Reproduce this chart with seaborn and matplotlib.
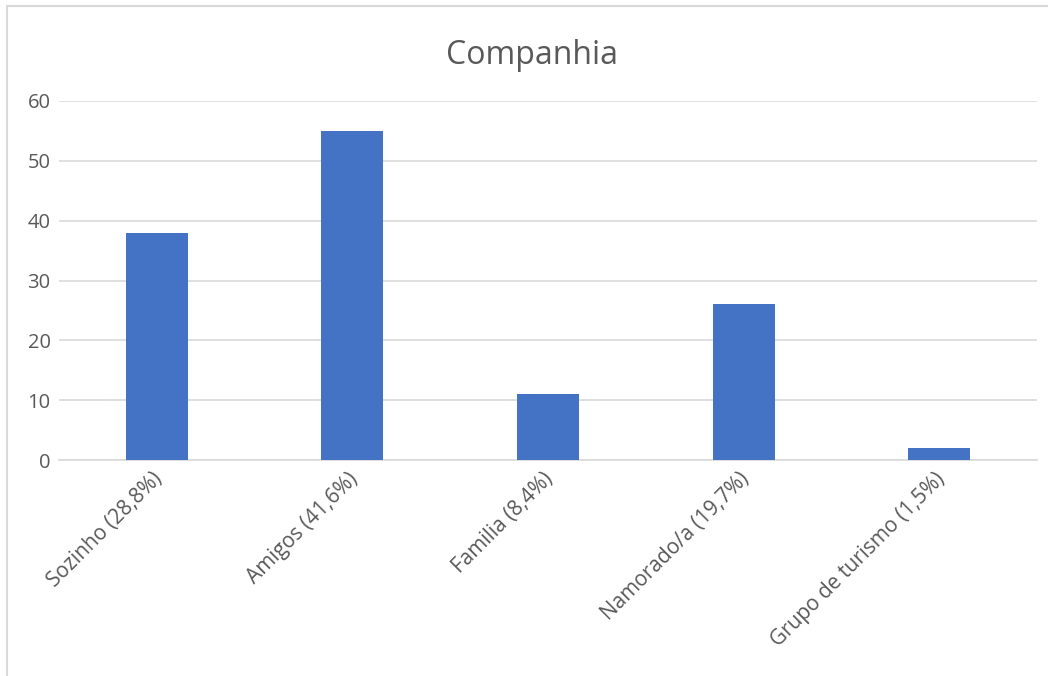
import matplotlib
matplotlib.use("Agg")
import matplotlib.pyplot as plt
import matplotlib.transforms as mtransforms
import seaborn as sns
import pandas as pd

categories = ["Sozinho (28,8%)", "Amigos (41,6%)", "Familia (8,4%)",
              "Namorado/a (19,7%)", "Grupo de turismo (1,5%)"]
counts = [38, 55, 11, 26, 2]
y_ticks = [0, 10, 20, 30, 40, 50, 60]

sns.set_theme(style="white")
plt.rcParams["font.family"] = ["Open Sans", "DejaVu Sans"]

df = pd.DataFrame({"categoria": categories, "n": counts})

fig = plt.figure(figsize=(10.48, 6.76), dpi=100)
ax = fig.add_axes([59 / 1048, 1 - 460 / 676, 978 / 1048, 359 / 676])

sns.barplot(data=df, x="categoria", y="n", color="#4472C4", width=0.317,
            saturation=1, linewidth=0, ax=ax, zorder=3)

ax.set_ylim(0, 60)
ax.set_xlim(-0.5, len(categories) - 0.5)
ax.set_yticks(y_ticks)
ax.yaxis.grid(True, color="#D9D9D9", linewidth=1.2, zorder=0)
ax.tick_params(axis="y", length=0, colors="#595959", labelsize=14.5, pad=6)
ax.tick_params(axis="x", length=0, colors="#595959", labelsize=15, pad=6)
shift = mtransforms.ScaledTranslation(-5 / 100, 0, fig.dpi_scale_trans)
for lbl in ax.get_xticklabels():
    lbl.set_rotation(45)
    lbl.set_ha("right")
    lbl.set_va("top")
    lbl.set_rotation_mode("anchor")
    lbl.set_transform(lbl.get_transform() + shift)
for s in ["top", "right", "left"]:
    ax.spines[s].set_visible(False)
ax.spines["bottom"].set_color("#D9D9D9")
ax.spines["bottom"].set_linewidth(1.2)
ax.set_xlabel("")
ax.set_ylabel("")

fig.text(532 / 1048, 1 - 56 / 676, "Companhia", ha="center", va="center",
         fontsize=23, color="#595959")

# chart frame (left and top edges)
fig.add_artist(plt.Line2D([6.5 / 1048, 6.5 / 1048], [0, 1 - 5.5 / 676],
                          color="#D9D9D9", linewidth=1.5))
fig.add_artist(plt.Line2D([6.5 / 1048, 1], [1 - 5.5 / 676, 1 - 5.5 / 676],
                          color="#D9D9D9", linewidth=1.5))

fig.savefig("out.png", dpi=100)
